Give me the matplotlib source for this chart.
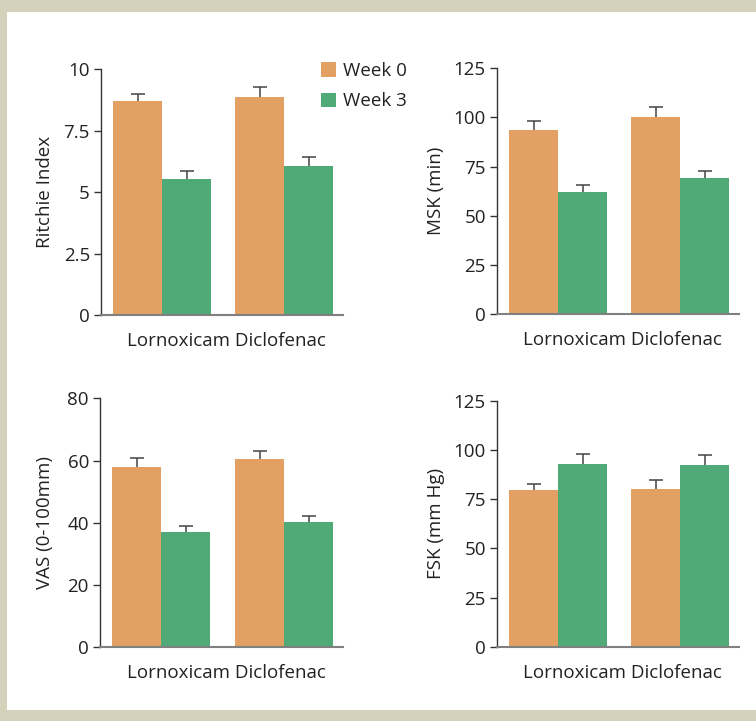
import matplotlib
matplotlib.use("Agg")
import matplotlib.pyplot as plt
from matplotlib.patches import Rectangle, Patch
from matplotlib import font_manager
import numpy as np

names = {f.name for f in font_manager.fontManager.ttflist}
fam = "Open Sans" if "Open Sans" in names else ("Noto Sans" if "Noto Sans" in names else "DejaVu Sans")
plt.rcParams['font.family'] = [fam, 'DejaVu Sans']

categories = ["Lornoxicam", "Diclofenac"]
series = ["Week 0", "Week 3"]

ritchie_w0 = [8.71, 8.87]
ritchie_w3 = [5.53, 6.06]
ritchie_w0_err = [0.30, 0.42]
ritchie_w3_err = [0.34, 0.38]

msk_w0 = [93.6, 100.2]
msk_w3 = [62.1, 69.2]
msk_w0_err = [4.6, 5.3]
msk_w3_err = [3.5, 3.7]

vas_w0 = [57.9, 60.5]
vas_w3 = [37.0, 40.3]
vas_w0_err = [2.9, 2.7]
vas_w3_err = [2.1, 2.0]

fsk_w0 = [79.7, 80.2]
fsk_w3 = [92.9, 92.4]
fsk_w0_err = [3.2, 4.4]
fsk_w3_err = [5.0, 5.0]

panels = [
    dict(title="Ritchie Index", w0=ritchie_w0, w3=ritchie_w3, e0=ritchie_w0_err, e3=ritchie_w3_err,
         ylim=10, ticks=[0, 2.5, 5, 7.5, 10], ticklabels=["0", "2.5", "5", "7.5", "10"]),
    dict(title="MSK (min)", w0=msk_w0, w3=msk_w3, e0=msk_w0_err, e3=msk_w3_err,
         ylim=125, ticks=[0, 25, 50, 75, 100, 125], ticklabels=["0", "25", "50", "75", "100", "125"]),
    dict(title="VAS (0-100mm)", w0=vas_w0, w3=vas_w3, e0=vas_w0_err, e3=vas_w3_err,
         ylim=80, ticks=[0, 20, 40, 60, 80], ticklabels=["0", "20", "40", "60", "80"]),
    dict(title="FSK (mm Hg)", w0=fsk_w0, w3=fsk_w3, e0=fsk_w0_err, e3=fsk_w3_err,
         ylim=125, ticks=[0, 25, 50, 75, 100, 125], ticklabels=["0", "25", "50", "75", "100", "125"]),
]

W, H = 756, 721
fig = plt.figure(figsize=(W / 100, H / 100), dpi=100)
fig.patch.set_facecolor("#D4D2BB")
bg = Rectangle((7 / W, 11 / H), 1 - 7 / W, 1 - 23 / H, transform=fig.transFigure,
               facecolor="white", edgecolor="none", zorder=-10)
fig.patches.append(bg)

orange = "#E2A162"
green = "#50AA78"

# axes rectangles in pixel coords: (left, top, right, bottom)
rects = [
    (101, 69.3, 343, 315),
    (497, 68.3, 739, 314),
    (100, 398.3, 343, 647.3),
    (497, 401, 739, 646.7),
]
label_x = [45, 436, 45, 436]

fs = 13.5
x = np.arange(len(categories))
w = 0.4
for i, (p, r) in enumerate(zip(panels, rects)):
    l, t, rr, b = r
    ax = fig.add_axes([l / W, 1 - b / H, (rr - l) / W, (b - t) / H])
    ax.patch.set_alpha(0)
    ax.bar(x - w / 2, p["w0"], w, color=orange, zorder=2)
    ax.bar(x + w / 2, p["w3"], w, color=green, zorder=2)
    for xs, vals, errs in [(x - w / 2, p["w0"], p["e0"]), (x + w / 2, p["w3"], p["e3"])]:
        eb = ax.errorbar(xs, vals, yerr=[np.zeros(2), errs], fmt="none",
                         ecolor="#444444", elinewidth=1.1, capsize=4.8, capthick=1.1, zorder=1)
        caps = eb[1]
        if len(caps) == 2:
            caps[0].set_visible(False)
    ax.set_xlim(-0.5, 1.48)
    ax.set_ylim(0, p["ylim"])
    ax.set_yticks(p["ticks"])
    ax.set_yticklabels(p["ticklabels"])
    ax.set_xticks([])
    for s in ["top", "right"]:
        ax.spines[s].set_visible(False)
    ax.spines["left"].set_color("#333333")
    ax.spines["left"].set_linewidth(1.0)
    ax.spines["bottom"].set_color("#808080")
    ax.spines["bottom"].set_linewidth(1.5)
    ax.tick_params(axis="y", length=5, width=1, color="#333333", labelsize=fs,
                   labelcolor="#222222", pad=3)
    ax.set_ylabel(p["title"], fontsize=fs, color="#222222", va="center")
    ax.yaxis.set_label_coords((label_x[i] - l) / (rr - l), 0.5)
    ax.text(0.52, -26 / (b - t), " ".join(categories), transform=ax.transAxes,
            ha="center", va="center", fontsize=fs, color="#222222")

handles = [Patch(facecolor=orange, edgecolor="none"), Patch(facecolor=green, edgecolor="none")]
fig.legend(handles, series, loc="upper left", bbox_to_anchor=(321 / W, 1 - 62 / H),
           frameon=False, fontsize=fs, handlelength=0.8, handleheight=0.8,
           borderpad=0, borderaxespad=0,
           handletextpad=0.37, labelspacing=0.66, labelcolor="#222222")

fig.savefig("out.png", dpi=100, facecolor=fig.get_facecolor())
